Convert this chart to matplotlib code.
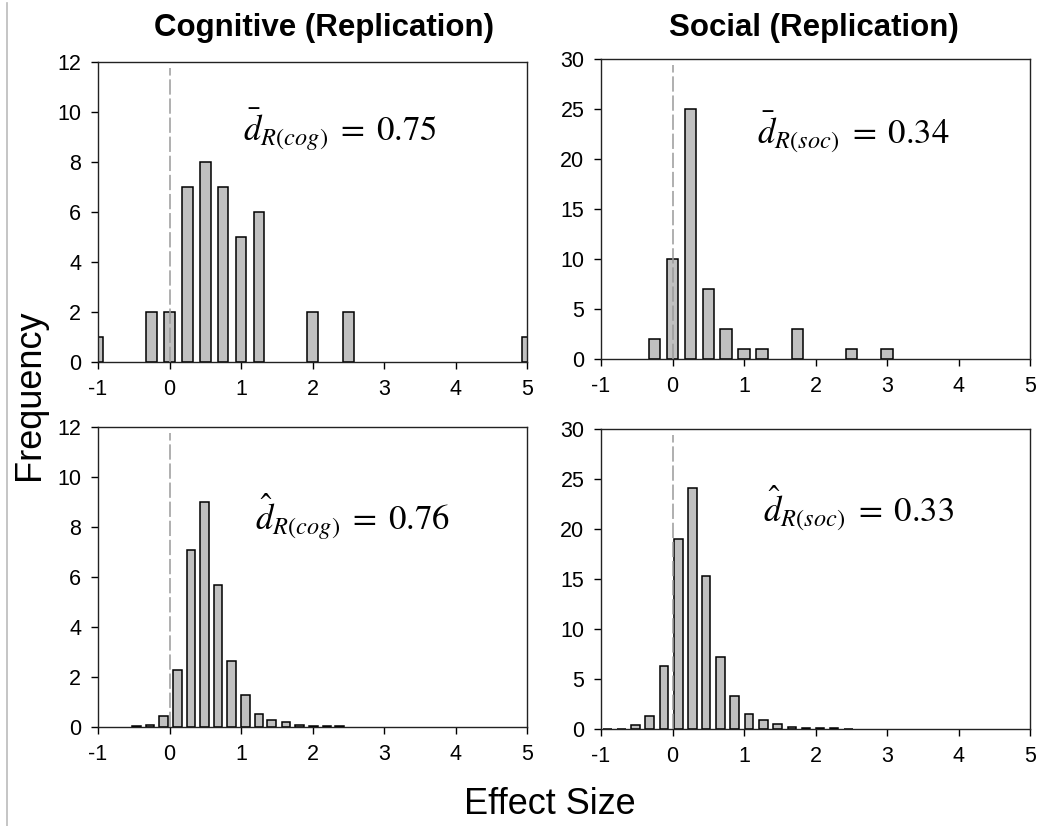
import matplotlib
matplotlib.use("Agg")
import matplotlib.pyplot as plt
from matplotlib.lines import Line2D

plt.rcParams["font.family"] = ["Liberation Sans", "DejaVu Sans"]
plt.rcParams["mathtext.fontset"] = "stix"
plt.rcParams["axes.unicode_minus"] = False

# observed effect sizes (top row), bin centres and counts
cog_obs_x = [-1.0, -0.25, 0.0, 0.25, 0.5, 0.75, 1.0, 1.25, 2.0, 2.5, 5.0]
cog_obs_n = [1, 2, 2, 7, 8, 7, 5, 6, 2, 2, 1]
soc_obs_x = [-0.25, 0.0, 0.25, 0.5, 0.75, 1.0, 1.25, 1.75, 2.5, 3.0]
soc_obs_n = [2, 10, 25, 7, 3, 1, 1, 3, 1, 1]

# estimated distributions (bottom row)
cog_est_x = [-0.46, -0.27, -0.08, 0.11, 0.30, 0.49, 0.68, 0.87,
             1.06, 1.25, 1.43, 1.63, 1.82, 2.01, 2.20, 2.38]
cog_est_n = [0.05, 0.1, 0.45, 2.3, 7.1, 9.0, 5.7, 2.65,
             1.27, 0.53, 0.29, 0.19, 0.09, 0.05, 0.05, 0.04]
soc_est_x = [-0.91, -0.71, -0.52, -0.32, -0.12, 0.08, 0.28, 0.47, 0.67,
             0.87, 1.07, 1.27, 1.47, 1.67, 1.87, 2.06, 2.26, 2.46]
soc_est_n = [0.05, 0.05, 0.4, 1.3, 6.3, 19.0, 24.1, 15.3, 7.2,
             3.3, 1.5, 0.9, 0.5, 0.25, 0.1, 0.08, 0.06, 0.05]

W, H = 1059, 826
fig = plt.figure(figsize=(W / 100, H / 100), dpi=100)


def px_axes(x0, y0, x1, y1):
    return fig.add_axes([x0 / W, 1 - y1 / H, (x1 - x0) / W, (y1 - y0) / H])


panels = [
    (px_axes(98, 62, 527, 362), cog_obs_x, cog_obs_n, 0.15, 12, 2,
     r"$\bar{d}_{R(cog)}\;=\;0.75$", (1.03, 9.3)),
    (px_axes(601, 59, 1030, 359), soc_obs_x, soc_obs_n, 0.16, 30, 5,
     r"$\bar{d}_{R(soc)}\;=\;0.34$", (1.18, 22.7)),
    (px_axes(98, 427, 527, 727), cog_est_x, cog_est_n, 0.12, 12, 2,
     r"$\hat{d}_{R(cog)}\;=\;0.76$", (1.2, 8.4)),
    (px_axes(601, 429, 1030, 729), soc_est_x, soc_est_n, 0.12, 30, 5,
     r"$\hat{d}_{R(soc)}\;=\;0.33$", (1.27, 22.1)),
]

for ax, xs, ns, w, ymax, ystep, label, pos in panels:
    ax.bar(xs, ns, width=w, color="#c0c0c0", edgecolor="black", linewidth=1.1, zorder=2)
    ax.plot([0, 0], [0, ymax * 0.98], color="#9a9a9a", linestyle=(0, (10, 2.5)),
            linewidth=1.1, zorder=3)
    ax.set_xlim(-1, 5)
    ax.set_ylim(0, ymax)
    ax.set_xticks(range(-1, 6))
    ax.set_yticks(range(0, ymax + 1, ystep))
    ax.tick_params(direction="out", length=5, width=1, labelsize=15.5, pad=7,
                   top=False, right=False)
    for s in ax.spines.values():
        s.set_linewidth(1.0)
        s.set_color("#222222")
    ax.text(pos[0], pos[1], label, fontsize=25, ha="left", va="center")

fig.text(324 / W, 1 - 28 / H, "Cognitive (Replication)", fontsize=22.5,
         fontweight="bold", ha="center", va="center")
fig.text(814 / W, 1 - 28 / H, "Social (Replication)", fontsize=22.5,
         fontweight="bold", ha="center", va="center")
fig.text(30 / W, 1 - 395 / H, "Frequency", fontsize=26, rotation=90,
         ha="center", va="center")
fig.text(550 / W, 1 - 804 / H, "Effect Size", fontsize=26,
         ha="center", va="center")

fig.add_artist(Line2D([7 / W, 7 / W], [0, 1 - 3 / H], color="#bbbbbb",
                      linewidth=1.2, transform=fig.transFigure))

fig.savefig("out.png", dpi=100)
